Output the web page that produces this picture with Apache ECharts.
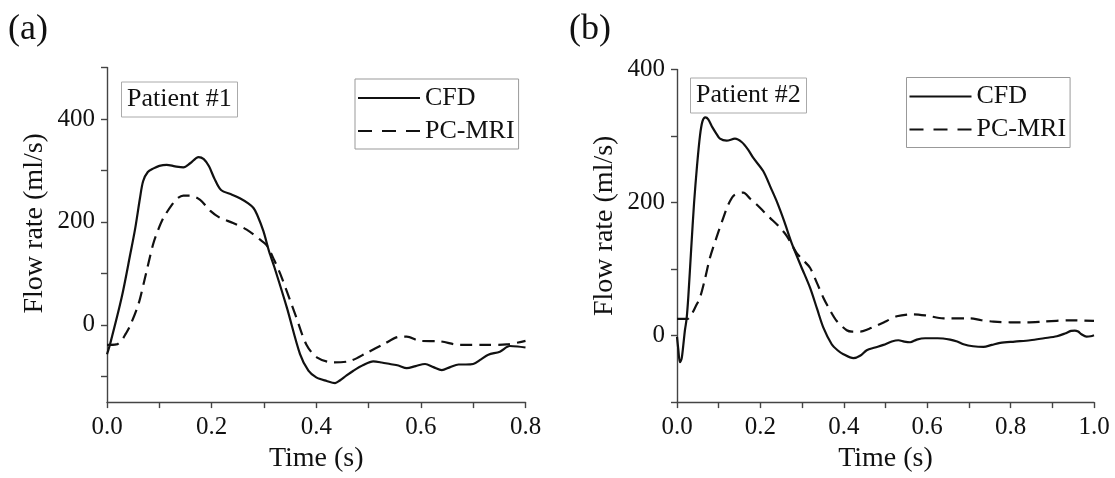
<!DOCTYPE html>
<html><head><meta charset="utf-8">
<script src="https://cdn.jsdelivr.net/npm/echarts@6/dist/echarts.min.js"></script>
<style>html,body{margin:0;padding:0;background:#fff}#c{width:1115px;height:478px}</style>
</head><body><div id="c"></div>
<script>
// ---- Patient #1 ----
const p1CfdT = [0,0.006,0.028,0.045,0.054,0.063,0.069,0.078,0.089,0.100,0.114,0.130,0.146,0.159,0.175,0.185,0.195,0.205,0.218,0.239,0.254,0.270,0.280,0.287,0.299,0.310,0.320,0.344,0.369,0.385,0.400,0.420,0.436,0.445,0.458,0.471,0.490,0.509,0.525,0.541,0.557,0.573,0.590,0.608,0.624,0.640,0.656,0.672,0.686,0.700,0.715,0.729,0.751,0.770,0.785,0.800];
const p1CfdV = [-57,-37,53,140,188,246,279,297,304,309,311,308,306,314,326,322,308,285,262,253,246,236,227,214,182,142,112,33,-57,-89,-102,-109,-113,-108,-98,-89,-78,-71,-73,-76,-79,-84,-80,-76,-82,-88,-82,-77,-77,-76,-67,-58,-52,-41,-42,-44];
const p1MriT = [0,0.018,0.028,0.036,0.044,0.060,0.070,0.088,0.098,0.108,0.124,0.135,0.146,0.159,0.178,0.197,0.216,0.241,0.267,0.292,0.305,0.320,0.334,0.362,0.381,0.401,0.433,0.465,0.497,0.528,0.560,0.573,0.598,0.637,0.675,0.720,0.764,0.800];
const p1MriV = [-39,-38,-30,-17,-2,40,80,156,185,208,233,246,251,251,243,222,208,198,185,166,155,125,92,14,-38,-63,-73,-70,-54,-38,-23,-23,-31,-32,-39,-39,-38,-31];
// ---- Patient #2 ----
const p2CfdT = [0,0.003,0.007,0.011,0.015,0.019,0.023,0.027,0.034,0.041,0.048,0.055,0.061,0.068,0.075,0.085,0.095,0.103,0.119,0.139,0.155,0.170,0.183,0.207,0.225,0.239,0.257,0.275,0.297,0.319,0.336,0.351,0.371,0.385,0.399,0.423,0.440,0.455,0.475,0.495,0.515,0.531,0.545,0.559,0.575,0.595,0.625,0.655,0.672,0.687,0.710,0.735,0.755,0.775,0.810,0.847,0.880,0.911,0.930,0.945,0.954,0.962,0.970,0.982,0.992,1.000];
const p2CfdV = [-2,-20,-40,-35,-15,8,25,57,130,200,255,300,322,328,325,313,303,296,293,296,291,280,267,247,222,202,172,139,105,72,40,12,-13,-22,-28,-34,-30,-22,-18,-14,-9,-7,-9,-10,-6,-4,-4,-6,-9,-13,-16,-17,-14,-11,-9,-7,-4,-1,3,7,7.5,6,2,-1.5,-1,0.5];
const p2MriT = [0,0.025,0.035,0.045,0.055,0.067,0.079,0.095,0.111,0.123,0.135,0.148,0.159,0.175,0.191,0.207,0.223,0.243,0.263,0.287,0.303,0.319,0.335,0.351,0.367,0.383,0.407,0.420,0.439,0.460,0.479,0.503,0.527,0.567,0.599,0.639,0.703,0.730,0.759,0.799,0.840,0.878,0.942,1.000];
const p2MriV = [25,25,32,44,57,85,117,148,177,197,210,214,215,206,197,187,177,165,150,124,113,102,80,57,38,22,8,6,6,10,15,22,29,32,30,26,26,23,21,20,20,21,23,22];
// ---- ticks / labels ----
const p1XLabels = [0,0.2,0.4,0.6,0.8];
const p1XTicks = [0,0.1,0.2,0.3,0.4,0.5,0.6,0.7,0.8];
const p1YLabels = [0,200,400];
const p1YTicks = [-100,0,100,200,300,400,500];
const p2XLabels = [0,0.2,0.4,0.6,0.8,1.0];
const p2XTicks = [0,0.1,0.2,0.3,0.4,0.5,0.6,0.7,0.8,0.9,1.0];
const p2YLabels = [0,200,400];
const p2YTicks = [-100,0,100,200,300,400];
const seriesNames = ['CFD','PC-MRI'];
const panelNames = ['Patient #1','Patient #2'];

const zip = (t, v) => t.map((x, i) => [x, v[i]]);
const FONT = 'Liberation Serif';
const INK = '#111';
const AX = '#444';

function xAxis(idx, max, labels, ticks) {
  return {
    type: 'value', gridIndex: idx, min: 0, max: max,
    name: 'Time (s)', nameLocation: 'middle', nameGap: 31,
    nameTextStyle: {fontFamily: FONT, fontSize: 28, color: INK},
    axisLine: {show: true, onZero: false, lineStyle: {color: AX, width: 1.4}},
    axisTick: {show: true, inside: false, length: 6, customValues: ticks, lineStyle: {color: AX, width: 1.4}},
    axisLabel: {customValues: labels, margin: 13, fontFamily: FONT, fontSize: 25, color: INK,
      formatter: v => Number(v).toFixed(1)},
    splitLine: {show: false}
  };
}
function yAxis(idx, min, max, labels, ticks, pad) {
  return {
    type: 'value', gridIndex: idx, min: min, max: max,
    name: 'Flow rate (ml/s)', nameLocation: 'middle', nameGap: 58,
    nameTextStyle: {fontFamily: FONT, fontSize: 28, color: INK, padding: [0, 0, 0, pad]},
    axisLine: {show: true, onZero: false, lineStyle: {color: AX, width: 1.4}},
    axisTick: {show: true, inside: false, length: 6, customValues: ticks, lineStyle: {color: AX, width: 1.4}},
    axisLabel: {customValues: labels, margin: 12, fontFamily: FONT, fontSize: 25, color: INK},
    splitLine: {show: false}
  };
}
function line(name, data, idx, dashed) {
  return {
    type: 'line', name: name, data: data, xAxisIndex: idx, yAxisIndex: idx,
    symbol: 'none', showSymbol: false, smooth: 0.3, animation: false,
    lineStyle: {color: INK, width: 2.2, type: dashed ? [12, 7] : 'solid'},
    itemStyle: {color: INK}
  };
}
function legend(left, top) {
  return {
    left: left, top: top, orient: 'vertical',
    data: [{name: seriesNames[0]}, {name: seriesNames[1], lineStyle: {type: [14, 10]}}],
    itemWidth: 62, itemHeight: 14, itemGap: 7,
    padding: [6, 4, 5, 2],
    borderColor: '#999', borderWidth: 1,
    itemStyle: {color: 'rgba(0,0,0,0)', borderWidth: 0, opacity: 0},
    textStyle: {fontFamily: FONT, fontSize: 26, color: INK, lineHeight: 26},
    selectedMode: false
  };
}
function boxTitle(text, left, top) {
  return {
    text: text, left: left, top: top, padding: [5, 6, 5, 6],
    borderColor: '#aaa', borderWidth: 1,
    textStyle: {fontFamily: FONT, fontSize: 26, fontWeight: 'normal', color: INK, lineHeight: 26}
  };
}

const chart = echarts.init(document.getElementById('c'), null, {renderer: 'canvas'});
chart.setOption({
  backgroundColor: '#fff',
  animation: false,
  grid: [
    {left: 107, top: 67.5, width: 418.5, height: 338.5},
    {left: 677, top: 69.5, width: 417, height: 336.5}
  ],
  xAxis: [xAxis(0, 0.8, p1XLabels, p1XTicks), xAxis(1, 1.0, p2XLabels, p2XTicks)],
  yAxis: [yAxis(0, -150, 500, p1YLabels, p1YTicks, 23), yAxis(1, -100, 400, p2YLabels, p2YTicks, 20)],
  title: [boxTitle(panelNames[0], 121, 81.5), boxTitle(panelNames[1], 690, 77.5)],
  legend: [legend(355, 79), legend(906.5, 77.5)],
  graphic: [
    {type: 'text', left: 8, top: 12, style: {text: '(a)', font: '36px "Liberation Serif"', fill: INK}},
    {type: 'text', left: 569, top: 12, style: {text: '(b)', font: '36px "Liberation Serif"', fill: INK}}
  ],
  series: [
    line(seriesNames[0], zip(p1CfdT, p1CfdV), 0, false),
    line(seriesNames[1], zip(p1MriT, p1MriV), 0, true),
    line(seriesNames[0], zip(p2CfdT, p2CfdV), 1, false),
    line(seriesNames[1], zip(p2MriT, p2MriV), 1, true)
  ]
});
</script></body></html>
